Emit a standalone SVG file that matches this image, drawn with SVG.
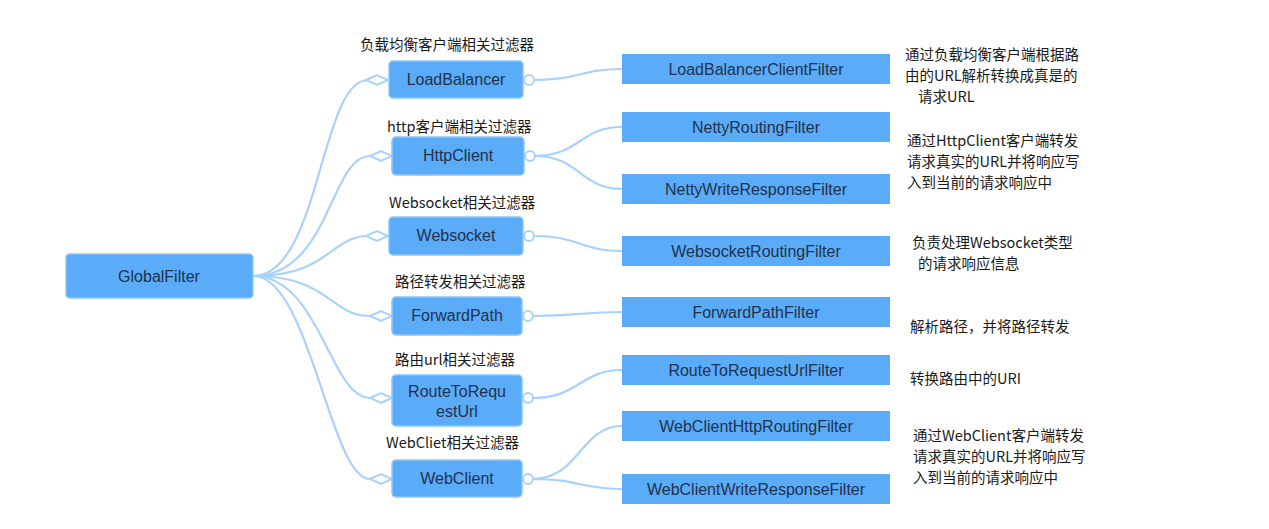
<svg xmlns="http://www.w3.org/2000/svg" width="1269" height="529" viewBox="0 0 1269 529">
<style>
.n{fill:#5aabf8;stroke:#8cc6fb;stroke-width:1.5}
.r{fill:#5aabf8}
.t{font-family:"Liberation Sans","Noto Sans CJK SC",sans-serif;font-size:16px;fill:#22324d;text-anchor:middle}
.l{font-family:"Noto Sans CJK SC","Liberation Sans",sans-serif;font-size:14.5px;fill:#1a1a1a}
.c{fill:none;stroke:#a8d2fb;stroke-width:2.2}
.m{fill:#fff;stroke:#a8d2fb;stroke-width:2}
</style>
<rect width="1269" height="529" fill="#fff"/>
<g id="connectors">
<path class="c" d="M253 276 C320 276 320 80 368 80"/>
<path class="c" d="M253 276 C330 276 330 156 370 156"/>
<path class="c" d="M253 276 C330 276 330 236 368 236"/>
<path class="c" d="M253 276 C330 276 330 316 370 316"/>
<path class="c" d="M253 276 C320 276 330 398 370 398"/>
<path class="c" d="M253 276 C310 276 330 479 370 479"/>
<path class="m" d="M366 80 l11 -5 l11 5 l-11 5z"/>
<path class="m" d="M370 156 l11 -5 l11 5 l-11 5z"/>
<path class="m" d="M366 236 l11 -5 l11 5 l-11 5z"/>
<path class="m" d="M370 316 l11 -5 l11 5 l-11 5z"/>
<path class="m" d="M370 398 l11 -5 l11 5 l-11 5z"/>
<path class="m" d="M370 479 l11 -5 l11 5 l-11 5z"/>
<path class="c" d="M533 80 C580 80 580 69 622 69"/>
<path class="c" d="M534 156 C580 156 580 127 622 127"/>
<path class="c" d="M534 156 C580 156 580 189 622 189"/>
<path class="c" d="M533 236 C580 236 580 251 622 251"/>
<path class="c" d="M532 316 C580 316 580 312 622 312"/>
<path class="c" d="M532 398 C580 398 580 370 622 370"/>
<path class="c" d="M532 479 C580 479 580 426 622 426"/>
<path class="c" d="M532 479 C580 479 580 489 622 489"/>
<circle class="m" cx="529" cy="80" r="5"/>
<circle class="m" cx="530" cy="156" r="5"/>
<circle class="m" cx="529" cy="236" r="5"/>
<circle class="m" cx="528" cy="316" r="5"/>
<circle class="m" cx="528" cy="398" r="5"/>
<circle class="m" cx="528" cy="479" r="5"/>
</g>
<g id="GlobalFilter"><rect class="n" x="66" y="254" width="187" height="44" rx="4"/><text class="t" x="159" y="282">GlobalFilter</text></g>
<g id="LoadBalancer"><text class="l" x="360" y="50">负载均衡客户端相关过滤器</text><rect class="n" x="389" y="61" width="134" height="37" rx="4"/><text class="t" x="456" y="85">LoadBalancer</text></g>
<g id="HttpClient"><text class="l" x="387" y="132">http客户端相关过滤器</text><rect class="n" x="392" y="137" width="132" height="38" rx="4"/><text class="t" x="458" y="161">HttpClient</text></g>
<g id="Websocket"><text class="l" x="389" y="208">Websocket相关过滤器</text><rect class="n" x="389" y="217" width="134" height="38" rx="4"/><text class="t" x="456" y="241">Websocket</text></g>
<g id="ForwardPath"><text class="l" x="395" y="287">路径转发相关过滤器</text><rect class="n" x="392" y="297" width="130" height="38" rx="4"/><text class="t" x="457" y="321">ForwardPath</text></g>
<g id="RouteToRequestUrl"><text class="l" x="395" y="365">路由url相关过滤器</text><rect class="n" x="392" y="375" width="130" height="51" rx="4"/><text class="t" x="457" y="397">RouteToRequ</text><text class="t" x="457" y="417">estUrl</text></g>
<g id="WebClient"><text class="l" x="386" y="448">WebCliet相关过滤器</text><rect class="n" x="392" y="460" width="130" height="37" rx="4"/><text class="t" x="457" y="484">WebClient</text></g>
<g id="LoadBalancerClientFilter"><rect class="r" x="622" y="54" width="268" height="30"/><text class="t" x="756" y="75">LoadBalancerClientFilter</text></g>
<g id="NettyRoutingFilter"><rect class="r" x="622" y="112" width="268" height="30"/><text class="t" x="756" y="133">NettyRoutingFilter</text></g>
<g id="NettyWriteResponseFilter"><rect class="r" x="622" y="174" width="268" height="30"/><text class="t" x="756" y="195">NettyWriteResponseFilter</text></g>
<g id="WebsocketRoutingFilter"><rect class="r" x="622" y="236" width="268" height="30"/><text class="t" x="756" y="257">WebsocketRoutingFilter</text></g>
<g id="ForwardPathFilter"><rect class="r" x="622" y="297" width="268" height="30"/><text class="t" x="756" y="318">ForwardPathFilter</text></g>
<g id="RouteToRequestUrlFilter"><rect class="r" x="622" y="355" width="268" height="30"/><text class="t" x="756" y="376">RouteToRequestUrlFilter</text></g>
<g id="WebClientHttpRoutingFilter"><rect class="r" x="622" y="411" width="268" height="30"/><text class="t" x="756" y="432">WebClientHttpRoutingFilter</text></g>
<g id="WebClientWriteResponseFilter"><rect class="r" x="622" y="474" width="268" height="30"/><text class="t" x="756" y="495">WebClientWriteResponseFilter</text></g>
<g id="descriptions">
<text class="l" x="905" y="60">通过负载均衡客户端根据路</text><text class="l" x="905" y="81">由的URL解析转换成真是的</text><text class="l" x="918" y="102">请求URL</text>
<text class="l" x="907" y="146">通过HttpClient客户端转发</text><text class="l" x="907" y="167">请求真实的URL并将响应写</text><text class="l" x="907" y="188">入到当前的请求响应中</text>
<text class="l" x="912" y="248">负责处理Websocket类型</text><text class="l" x="918" y="269">的请求响应信息</text>
<text class="l" x="910" y="332">解析路径，并将路径转发</text>
<text class="l" x="910" y="384">转换路由中的URI</text>
<text class="l" x="913" y="441">通过WebClient客户端转发</text><text class="l" x="913" y="462">请求真实的URL并将响应写</text><text class="l" x="913" y="483">入到当前的请求响应中</text>
</g>
</svg>
